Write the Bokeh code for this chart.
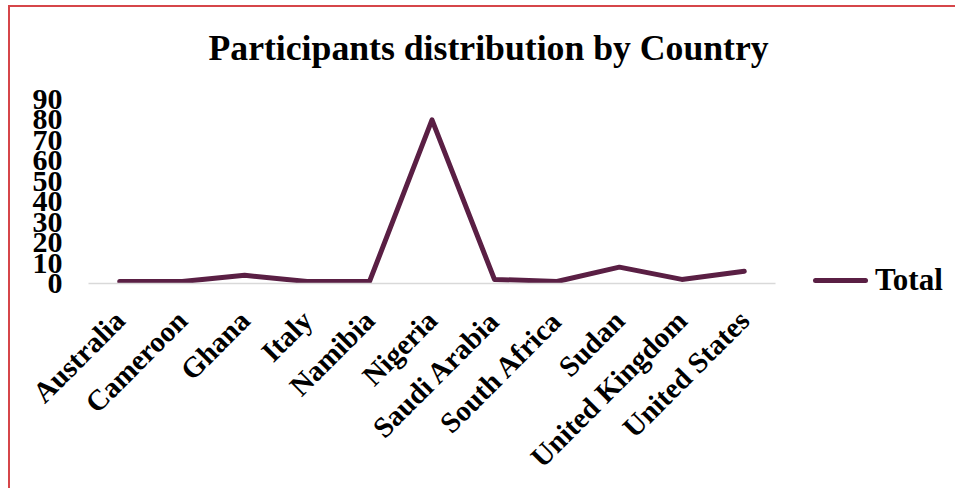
from math import pi
from bokeh.plotting import figure
from bokeh.layouts import row
from bokeh.models import ColumnDataSource, FixedTicker, FactorRange, Div
from bokeh.embed import file_html
from bokeh.resources import INLINE

countries = ["Australia", "Cameroon", "Ghana", "Italy", "Namibia", "Nigeria",
             "Saudi Arabia", "South Africa", "Sudan", "United Kingdom", "United States"]
totals = [1, 1, 4, 1, 1, 80, 2, 1, 8, 2, 6]
y_ticks = [0, 10, 20, 30, 40, 50, 60, 70, 80, 90]
title_text = "Participants distribution by Country"
series_name = "Total"

FONT = "Liberation Serif"
LINE = "#5a1f44"
RED = "#d6464a"

src = ColumnDataSource(dict(country=countries, total=totals))

# main chart
p = figure(x_range=FactorRange(*countries), y_range=(0, 90),
           width=785, height=495, output_backend="svg", toolbar_location=None,
           min_border_left=88, min_border_right=10, min_border_top=60, min_border_bottom=205)
p.margin = (-7, 0, 0, 0)
p.outline_line_color = None
p.background_fill_color = "white"
p.border_fill_color = None

r = p.line("country", "total", source=src, line_color=LINE, line_width=5,
           line_cap="round", line_join="round")

p.title.text = title_text
p.title.text_font = FONT
p.title.text_font_size = "35.7px"
p.title.text_font_style = "bold"
p.title.text_color = "black"
p.title.align = "left"
p.title.offset = 120
p.title.vertical_align = "bottom"
p.title.standoff = 64

p.xgrid.visible = False
p.ygrid.visible = False

xa = p.xaxis[0]
xa.axis_line_color = "#d9d9d9"
xa.axis_line_width = 1.5
xa.major_tick_line_color = None
xa.minor_tick_line_color = None
xa.major_label_orientation = pi / 4
xa.major_label_text_font = FONT
xa.major_label_text_font_size = "29px"
xa.major_label_text_font_style = "bold"
xa.major_label_text_color = "black"
xa.major_label_standoff = 26

ya = p.yaxis[0]
ya.ticker = FixedTicker(ticks=y_ticks)
ya.axis_line_color = None
ya.major_tick_line_color = None
ya.minor_tick_line_color = None
ya.major_label_text_font = FONT
ya.major_label_text_font_size = "30px"
ya.major_label_text_font_style = "bold"
ya.major_label_text_color = "black"
ya.major_label_standoff = 20

# legend, placed to the right of the chart
legend_html = (
    '<div style="position:relative;width:170px;height:488px;">'
    '<div style="position:absolute;left:28px;top:262px;height:36px;display:flex;'
    'align-items:center;white-space:nowrap;">'
    f'<span style="display:inline-block;width:55px;height:5px;border-radius:3px;background:{LINE};"></span>'
    f'<span style="margin-left:7px;font-family:\'{FONT}\';font-weight:bold;font-size:31px;color:black;">'
    f'{series_name}</span></div></div>'
)
legend_div = Div(text=legend_html, width=170, height=488, margin=(0, 0, 0, 0))

layout = row(p, legend_div)
layout.styles = {
    "background": (f"linear-gradient({RED},{RED}) 8px 5px / 2px 483px no-repeat, "
                   f"linear-gradient({RED},{RED}) 8px 5px / 947px 2px no-repeat, white")
}

open("out.html", "w").write(file_html(layout, INLINE))
